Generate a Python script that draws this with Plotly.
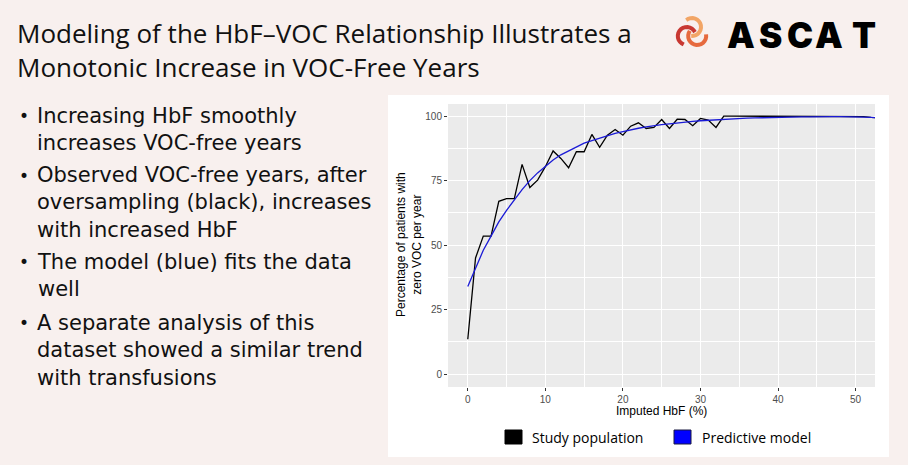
import math
import plotly.graph_objects as go

W, H = 908, 465

# Imputed HbF (%) on the x axis
hbf = list(range(0, 54))

# Study population (black line), % of patients with zero VOC per year
study_pct = [13.5, 45, 53.5, 53.5, 67, 68, 68, 81.3, 72.3, 75.2,
             80.4, 86.5, 83.6, 80, 86.2, 86.2, 92.9, 87.9, 92.6, 94.8,
             92.6, 96.1, 97.4, 95.2, 95.6, 98.7, 95.2, 98.8, 98.7, 96.3,
             99.1, 98.5, 95.6, 100, 100, 100, 100, 100, 100, 100,
             100, 100, 100, 100, 100, 100, 100, 100, 100, 100,
             100, 99.8, 99.5, 99.3]

# Predictive model (blue line)
model_pct = [34, 41, 48, 53.5, 59, 63.5, 67.5, 71.5, 75, 78,
             80.5, 83, 85, 86.5, 88, 89.5, 90.5, 91.5, 92.5, 93.3,
             94, 94.8, 95.3, 95.8, 96.3, 96.7, 97, 97.4, 97.7, 98,
             98.2, 98.4, 98.6, 98.8, 98.9, 99.1, 99.2, 99.3, 99.4, 99.5,
             99.6, 99.6, 99.7, 99.7, 99.7, 99.8, 99.8, 99.8, 99.8, 99.8,
             99.8, 99.6, 99.5, 99.3]

x_ticks = [0, 10, 20, 30, 40, 50]
y_ticks = [0, 25, 50, 75, 100]

title_lines = ["Modeling of the HbF\u2013VOC Relationship Illustrates a",
               "Monotonic Increase in VOC-Free Years"]
bullets = [
    ["Increasing HbF smoothly", "increases VOC-free years"],
    ["Observed VOC-free years, after", "oversampling (black), increases", "with increased HbF"],
    ["The model (blue) fits the data", "well"],
    ["A separate analysis of this", "dataset showed a similar trend", "with transfusions"],
]


def px(x):
    return x / W


def py(y):
    return 1 - y / H


fig = go.Figure()
fig.add_trace(go.Scatter(x=hbf, y=study_pct, mode="lines",
                         line=dict(color="black", width=1.3), name="Study population"))
fig.add_trace(go.Scatter(x=hbf, y=model_pct, mode="lines",
                         line=dict(color="#1a1ad6", width=1.3), name="Predictive model"))

axis_common = dict(showline=False, zeroline=False, showgrid=True, gridcolor="white",
                   gridwidth=1.1, ticks="outside", ticklen=3, tickcolor="#333333",
                   tickfont=dict(family="Liberation Sans", size=10, color="#4d4d4d"))

fig.update_xaxes(domain=[px(448), px(875)], range=[-2.55, 52.5], tickvals=x_ticks,
                 minor=dict(tickvals=[5, 15, 25, 35, 45], showgrid=True,
                            gridcolor="white", gridwidth=0.5, ticks=""),
                 **axis_common)
fig.update_yaxes(domain=[py(387), py(104)], range=[-5, 104.7], tickvals=y_ticks,
                 minor=dict(tickvals=[12.5, 37.5, 62.5, 87.5], showgrid=True,
                            gridcolor="white", gridwidth=0.5, ticks=""),
                 **axis_common)

shapes = [
    # white panel behind the chart
    dict(type="rect", xref="paper", yref="paper", x0=px(388), x1=px(889),
         y0=py(457), y1=py(95), fillcolor="white", line=dict(width=0), layer="below"),
    # ggplot grey panel
    dict(type="rect", xref="x domain", yref="y domain", x0=0, x1=1, y0=0, y1=1,
         fillcolor="#ebebeb", line=dict(width=0), layer="below"),
    # legend swatches
    dict(type="rect", xref="paper", yref="paper", x0=px(505), x1=px(522),
         y0=py(444), y1=py(430), fillcolor="black", line=dict(color="black", width=1)),
    dict(type="rect", xref="paper", yref="paper", x0=px(674), x1=px(691),
         y0=py(444), y1=py(430), fillcolor="#0000ff", line=dict(color="#1a1a40", width=1)),
]

# swirl logo mark
logo_cols = ["#f2a566", "#e66a3e", "#c83832"]
cx, cy = 692, 33
for k in range(3):
    th = math.radians(-90 + 120 * k)
    ox, oy = cx + 6 * math.cos(th), cy + 6 * math.sin(th)
    pts = []
    for i in range(16):
        a = th + math.radians(-40 + i * 15)
        pts.append((ox + 9 * math.cos(a), oy + 9 * math.sin(a)))
    path = "M " + " L ".join(f"{px(a):.5f},{py(b):.5f}" for a, b in pts)
    shapes.append(dict(type="path", xref="paper", yref="paper", path=path,
                       line=dict(color=logo_cols[k], width=4)))

annotations = []
ink = "#111111"


def label(text, x, y, size, family="Open Sans", color=ink, xanchor="left", **kw):
    annotations.append(dict(text=text, x=px(x), y=py(y), xref="paper", yref="paper",
                            xanchor=xanchor, yanchor="middle", showarrow=False,
                            font=dict(family=family, size=size, color=color), **kw))


label("<br>".join(title_lines), 15, 50, 26, align="left")

for ch, x in zip("ASCAT", [741, 770, 799.5, 829, 864]):
    annotations.append(dict(text=ch, x=px(x), y=py(34.5), xref="paper", yref="paper",
                            xanchor="center", yanchor="middle", showarrow=False,
                            font=dict(family="Inter", size=35, color="#000000", weight=900)))

bullet_mid = [129.75, 203, 275.5, 350.5]
line_gap = 21 * 1.3
for lines, mid in zip(bullets, bullet_mid):
    first = mid - (len(lines) - 1) * line_gap / 2
    label("\u2022", 17, first, 17, family="DejaVu Sans")
    label("<br>".join(lines), 35, mid, 21, family="DejaVu Sans", align="left")

label("Percentage of patients with<br>zero VOC per year", 409, 245, 12,
      family="Liberation Sans", color="black", xanchor="center", textangle=-90)
label("Imputed HbF (%)", 661, 411, 12, family="Liberation Sans", color="black",
      xanchor="center")
label("Study population", 530, 437, 14, color="black")
label("Predictive model", 700, 437, 14, color="black")

fig.update_layout(width=W, height=H, margin=dict(l=0, r=0, t=0, b=0),
                  paper_bgcolor="#f8f0ee", plot_bgcolor="#ebebeb", showlegend=False,
                  shapes=shapes, annotations=annotations)

fig.write_html("out.html", config={"displayModeBar": False},
               post_script="document.body.style.margin='0';")
